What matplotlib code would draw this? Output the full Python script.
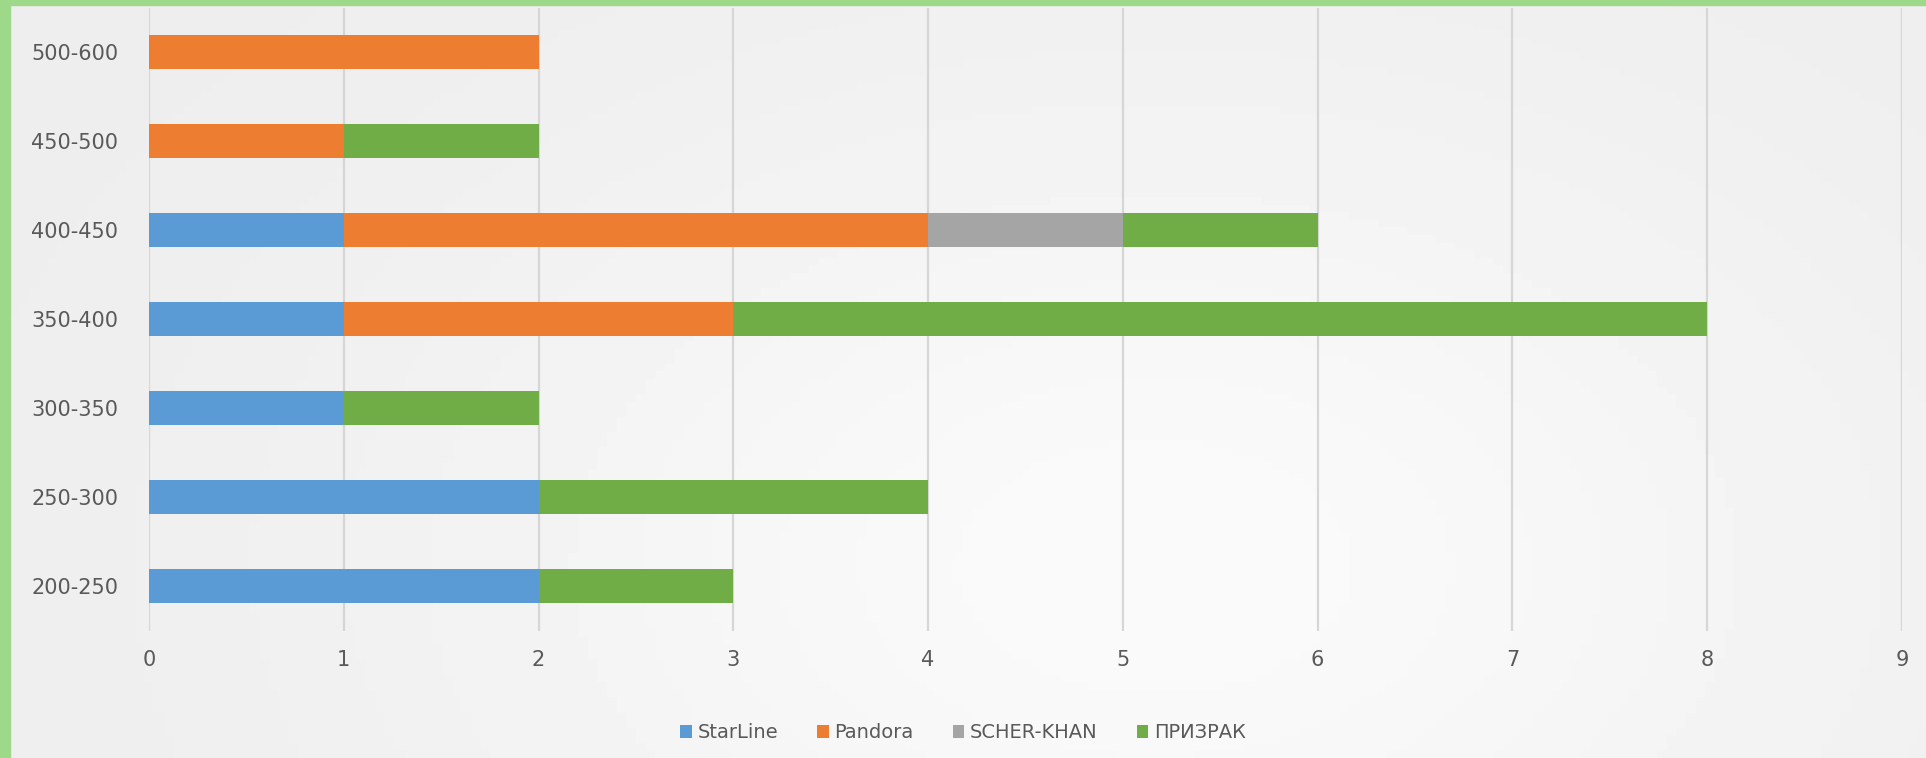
import numpy as np
import matplotlib.pyplot as plt
from matplotlib.patches import Rectangle

# price ranges (bottom to top) and counts per brand
categories = ['200-250', '250-300', '300-350', '350-400', '400-450', '450-500', '500-600']
starline = [2, 2, 1, 1, 1, 0, 0]
pandora = [0, 0, 0, 2, 3, 1, 2]
scher_khan = [0, 0, 0, 0, 1, 0, 0]
prizrak = [1, 2, 1, 5, 1, 1, 0]
series_names = ['StarLine', 'Pandora', 'SCHER-KHAN', 'ПРИЗРАК']
x_ticks = [0, 1, 2, 3, 4, 5, 6, 7, 8, 9]

colors = ['#5B9BD5', '#ED7D31', '#A5A5A5', '#70AD47']

fig = plt.figure(figsize=(19.26, 7.58), dpi=100)
fig.patch.set_facecolor('#efefef')

# soft light gradient behind the chart
bg = fig.add_axes([0, 0, 1, 1], zorder=-10)
gx = np.linspace(0, 1, 200)
gy = np.linspace(0, 1, 100)
GX, GY = np.meshgrid(gx, gy)
grad = 0.93 + 0.05 * np.exp(-((GX - 0.6) ** 2 / 0.15 + (GY - 0.75) ** 2 / 0.4))
bg.imshow(grad, cmap='gray', vmin=0, vmax=1, aspect='auto', extent=[0, 1, 0, 1])
bg.axis('off')

# green frame on the left and top
fig.patches.append(Rectangle((0, 0), 10 / 1926, 1, transform=fig.transFigure,
                             color='#9ed98a', zorder=5))
fig.patches.append(Rectangle((0, 1 - 5 / 758), 1, 5 / 758, transform=fig.transFigure,
                             color='#9ed98a', zorder=5))

ax = fig.add_axes([149 / 1926, 0.168, (1902 - 149) / 1926, 0.822])
ax.patch.set_alpha(0)

y = np.arange(len(categories))
left = np.zeros(len(categories))
for name, vals, c in zip(series_names, [starline, pandora, scher_khan, prizrak], colors):
    ax.barh(y, vals, left=left, height=0.38, color=c, label=name, zorder=3)
    left += np.array(vals)

ax.set_xlim(0, 9)
ax.set_ylim(-0.5, len(categories) - 0.5)
ax.set_xticks(x_ticks)
ax.set_yticks(y)
ax.set_yticklabels(categories)
ax.grid(axis='x', color='#d6d6d6', linewidth=1.6, zorder=0)
for s in ax.spines.values():
    s.set_visible(False)
ax.tick_params(length=0, colors='#595959', labelsize=15)
ax.tick_params(axis='x', pad=14)
ax.tick_params(axis='y', pad=22)

fig.legend(loc='center', bbox_to_anchor=(0.5, 0.033), ncol=4, frameon=False,
           fontsize=14, labelcolor='#595959', handlelength=0.6, handleheight=0.6,
           handletextpad=0.3, columnspacing=2.0)

fig.savefig('out.png', dpi=100, facecolor=fig.get_facecolor())
